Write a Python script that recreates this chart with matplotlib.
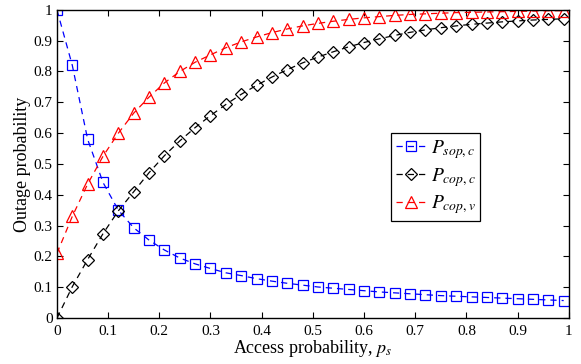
import matplotlib
matplotlib.use("Agg")
import matplotlib.pyplot as plt
import numpy as np

ps = [round(0.03 * i, 2) for i in range(34)]
p_sop_c = [1.0, 0.82, 0.58, 0.44, 0.35, 0.293, 0.253, 0.221, 0.195, 0.176, 0.161, 0.147, 0.138,
           0.128, 0.12, 0.113, 0.107, 0.101, 0.097, 0.093, 0.089, 0.085, 0.082, 0.079, 0.076,
           0.073, 0.071, 0.069, 0.067, 0.065, 0.063, 0.061, 0.059, 0.057]
p_cop_c = [0.0, 0.102, 0.19, 0.274, 0.348, 0.41, 0.472, 0.527, 0.575, 0.618, 0.657, 0.693, 0.726,
           0.755, 0.782, 0.806, 0.828, 0.847, 0.864, 0.88, 0.894, 0.906, 0.917, 0.927, 0.935,
           0.942, 0.948, 0.953, 0.957, 0.961, 0.964, 0.967, 0.969, 0.971]
p_cop_v = [0.21, 0.33, 0.435, 0.525, 0.60, 0.665, 0.717, 0.763, 0.80, 0.83, 0.854, 0.877, 0.896,
           0.912, 0.926, 0.938, 0.948, 0.956, 0.963, 0.969, 0.974, 0.978, 0.982, 0.985, 0.987,
           0.989, 0.991, 0.992, 0.993, 0.994, 0.995, 0.996, 0.997, 0.997]

plt.rcParams['font.family'] = ['Liberation Serif']
plt.rcParams['mathtext.fontset'] = 'stix'

fig = plt.figure(figsize=(5.81, 3.64), dpi=100)
ax = fig.add_axes([0.098, 0.126, 0.881, 0.847])

ms = 7
kw = dict(linestyle=(0, (5, 4)), linewidth=0.9, markerfacecolor='none', markeredgewidth=0.9)
ax.plot(ps, p_sop_c, color='#0000ff', marker='s', markersize=ms, label=r'$P_{sop,c}$', **kw)
ax.plot(ps, p_cop_c, color='black', marker='D', markersize=ms - 0.5, label=r'$P_{cop,c}$', **kw)
ax.plot(ps, p_cop_v, color='#ff0000', marker='^', markersize=ms + 2, label=r'$P_{cop,v}$', **kw)

ax.set_xlim(0, 1)
ax.set_ylim(0, 1)
ticks = [0, 0.1, 0.2, 0.3, 0.4, 0.5, 0.6, 0.7, 0.8, 0.9, 1]
labels = ['0', '0.1', '0.2', '0.3', '0.4', '0.5', '0.6', '0.7', '0.8', '0.9', '1']
ax.set_xticks(ticks)
ax.set_xticklabels(labels)
ax.set_yticks(ticks)
ax.set_yticklabels(labels)
ax.tick_params(direction='in', length=4, width=0.8, labelsize=11, top=True, right=True)
ax.tick_params(axis='x', pad=5)
ax.tick_params(axis='y', pad=3)
for s in ax.spines.values():
    s.set_linewidth(1.0)

ax.set_xlabel(r'Access probability, $p_s$', fontsize=13, labelpad=0)
ax.set_ylabel('Outage probability', fontsize=13, labelpad=2)

leg = ax.legend(loc='upper left', bbox_to_anchor=(0.652, 0.6), borderaxespad=0, fontsize=14,
                frameon=True, fancybox=False, edgecolor='black', framealpha=1, handlelength=1.6,
                handletextpad=0.2, borderpad=0.25, labelspacing=0.25)
leg.get_frame().set_linewidth(0.9)

fig.savefig('out.png', dpi=100)
